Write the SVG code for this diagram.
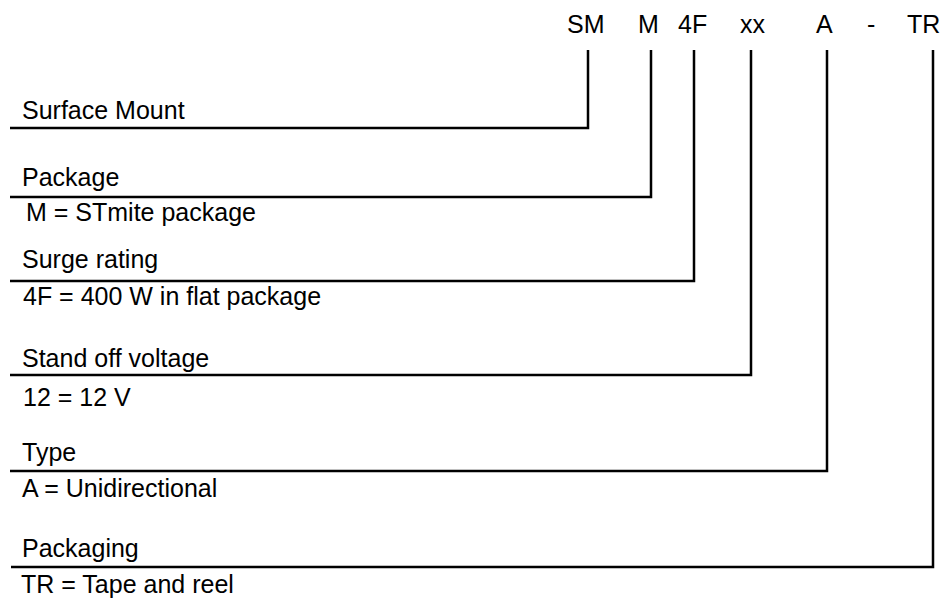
<svg xmlns="http://www.w3.org/2000/svg" width="949" height="603" viewBox="0 0 949 603">
<style>
text{font-family:"Liberation Sans",Arial,sans-serif;font-size:25px;fill:#000}
.code{font-size:25px}
.ln{fill:none;stroke:#000;stroke-width:2.5}
</style>
<rect width="949" height="603" fill="#fff"/>
<g id="code">
<text class="code" x="567" y="33">SM</text>
<text class="code" x="638" y="33">M</text>
<text class="code" x="678" y="33">4F</text>
<text class="code" x="740" y="33">xx</text>
<text class="code" x="816" y="33">A</text>
<text class="code" x="867" y="33">-</text>
<text class="code" x="907" y="33">TR</text>
</g>
<g id="connectors">
<polyline class="ln" points="588,50 588,128 10,128"/>
<polyline class="ln" points="651,50 651,197 10,197"/>
<polyline class="ln" points="694,50 694,281 10,281"/>
<polyline class="ln" points="751,50 751,375 10,375"/>
<polyline class="ln" points="827,50 827,471 10,471"/>
<polyline class="ln" points="933,50 933,567 11,567"/>
</g>
<g id="surface-mount"><text x="22" y="119">Surface Mount</text></g>
<g id="package"><text x="22" y="186">Package</text><text x="26" y="221">M = STmite package</text></g>
<g id="surge-rating"><text x="22" y="268">Surge rating</text><text x="23" y="305">4F = 400 W in flat package</text></g>
<g id="standoff"><text x="22" y="367">Stand off voltage</text><text x="23" y="406">12 = 12 V</text></g>
<g id="type"><text x="22" y="461">Type</text><text x="22" y="497">A = Unidirectional</text></g>
<g id="packaging"><text x="22" y="557">Packaging</text><text x="21" y="593">TR = Tape and reel</text></g>
</svg>
